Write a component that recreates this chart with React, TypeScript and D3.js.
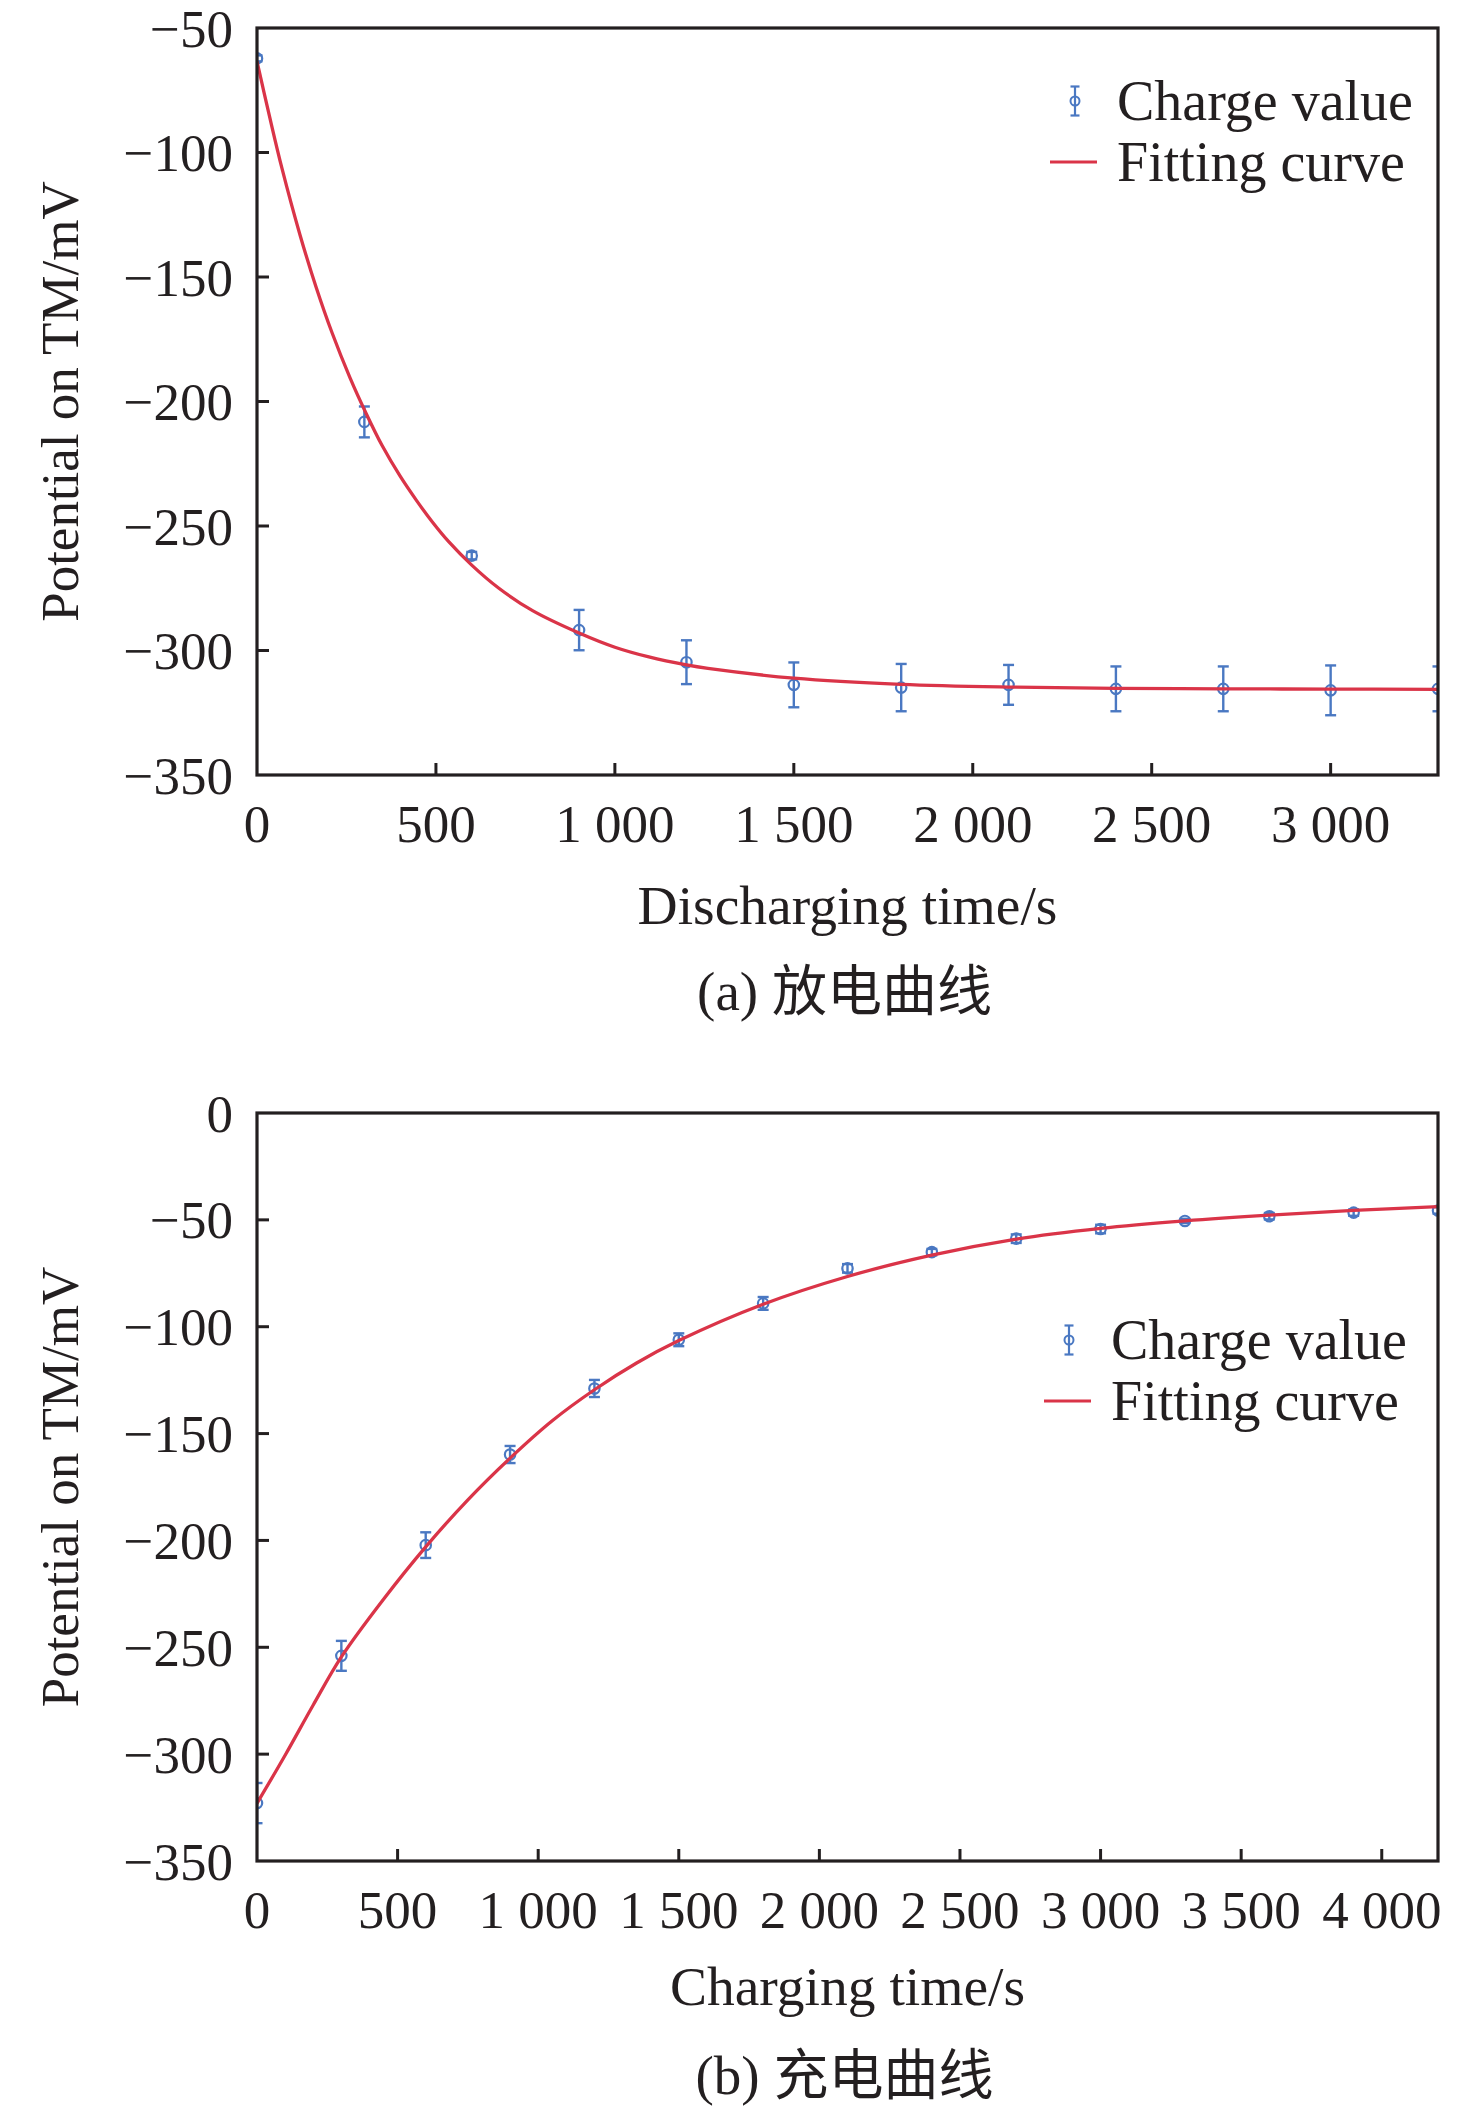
import React from 'react';
import * as d3 from 'd3';

// ---- data: (a) discharging ----
const dischargeTime = [0, 300, 600, 900, 1200, 1500, 1800, 2100, 2400, 2700, 3000, 3300];
const dischargeValue = [-62.2, -208.2, -261.9, -291.8, -304.7, -313.8, -314.9, -313.8, -315.4, -315.4, -316.0, -315.4];
const dischargeErr = [1.2, 6.2, 1.5, 8.1, 8.8, 9.0, 9.5, 8.0, 9.0, 9.0, 10.0, 9.0];
const dischargeFitTime = [0, 35, 70, 120, 165, 210, 260, 305, 350, 400, 445, 490, 535, 600, 675, 770, 900, 1000, 1095, 1200, 1260, 1500, 1800, 2100, 2400, 2700, 3000, 3300];
const dischargeFitValue = [-63.4, -85.5, -106.5, -133, -154, -172.5, -190.5, -204.8, -217.8, -230, -239.6, -248.4, -256.2, -265.7, -274.9, -284, -293, -298.7, -302.6, -305.8, -307.2, -311.1, -313.6, -314.7, -315.2, -315.4, -315.5, -315.6];
const dischargeXTicks = [500, 1000, 1500, 2000, 2500, 3000];
const dischargeXLabels = ['0', '500', '1 000', '1 500', '2 000', '2 500', '3 000'];
const dischargeYTicks = [-50, -100, -150, -200, -250, -300, -350];
const dischargeYLabels = ['−50', '−100', '−150', '−200', '−250', '−300', '−350'];

// ---- data: (b) charging ----
const chargeTime = [0, 300, 600, 900, 1200, 1500, 1800, 2100, 2400, 2700, 3000, 3300, 3600, 3900, 4200];
const chargeValue = [-322.9, -254, -202.2, -159.8, -128.9, -106.1, -89.1, -72.7, -65.1, -58.8, -54.3, -50.5, -48.3, -46.6, -45.6];
const chargeErr = [9.4, 7, 6, 4, 4, 3, 3, 2, 1.5, 2, 2, 1, 1.5, 1.5, 1.5];
const chargeFitTime = [0, 100, 200, 300, 450, 600, 750, 900, 1050, 1200, 1350, 1500, 1800, 2100, 2400, 2700, 3000, 3300, 3600, 3900, 4200];
const chargeFitValue = [-323, -300.5, -277, -254.5, -227.5, -203, -181, -161.5, -144, -129.5, -117, -106.5, -89.5, -76.5, -66.5, -59, -54, -50.5, -47.8, -45.6, -43.8];
const chargeXTicks = [500, 1000, 1500, 2000, 2500, 3000, 3500, 4000];
const chargeXLabels = ['0', '500', '1 000', '1 500', '2 000', '2 500', '3 000', '3 500', '4 000'];
const chargeYTicks = [0, -50, -100, -150, -200, -250, -300, -350];
const chargeYLabels = ['0', '−50', '−100', '−150', '−200', '−250', '−300', '−350'];

const legendLabels = ['Charge value', 'Fitting curve'];

const SERIF = "'Liberation Serif', 'Times New Roman', serif";
const CJK = "'Noto Sans CJK SC', sans-serif";
const INK = '#231f20';
const BLUE = '#4a78c2';
const RED = '#da3448';

interface PanelProps {
  id: string;
  box: { left: number; right: number; top: number; bottom: number };
  xMax: number;
  yDomain: [number, number];
  time: number[];
  value: number[];
  err: number[];
  fitTime: number[];
  fitValue: number[];
  xTicks: number[];
  xLabels: string[];
  yTicks: number[];
  yLabels: string[];
  xTitle: string;
  caption: [string, string];
  titleY: number;
  captionY: number;
  legend: { x: number; y: number };
}

function Panel(p: PanelProps) {
  const { box } = p;
  const x = d3.scaleLinear().domain([0, p.xMax]).range([box.left, box.right]);
  const y = d3.scaleLinear().domain(p.yDomain).range([box.bottom, box.top]);
  const line = d3.line<number>()
    .x((_, i) => x(p.fitTime[i]))
    .y(d => y(d))
    .curve(d3.curveCatmullRom.alpha(0.5));
  const tickLen = 12;
  const fs = 53;
  const cx = (box.left + box.right) / 2;
  const cy = (box.top + box.bottom) / 2;
  const xLabelTicks = [0, ...p.xTicks];

  return (
    <g>
      <defs>
        <clipPath id={`clip-${p.id}`}>
          <rect x={box.left} y={box.top} width={box.right - box.left} height={box.bottom - box.top} />
        </clipPath>
      </defs>

      <g clipPath={`url(#clip-${p.id})`}>
        {p.time.map((t, i) => {
          const px = x(t);
          const y0 = y(p.value[i] + p.err[i]);
          const y1 = y(p.value[i] - p.err[i]);
          return (
            <g key={t} stroke={BLUE} strokeWidth={2.4} fill="none">
              <line x1={px} x2={px} y1={y0} y2={y1} />
              <line x1={px - 5.5} x2={px + 5.5} y1={y0} y2={y0} />
              <line x1={px - 5.5} x2={px + 5.5} y1={y1} y2={y1} />
              <circle cx={px} cy={y(p.value[i])} r={5.2} strokeWidth={2.2} />
            </g>
          );
        })}
        <path d={line(p.fitValue) || ''} fill="none" stroke={RED} strokeWidth={3.3} />
      </g>

      {/* frame */}
      <rect x={box.left} y={box.top} width={box.right - box.left} height={box.bottom - box.top}
        fill="none" stroke={INK} strokeWidth={3.2} />
      {p.xTicks.map(t => (
        <line key={t} x1={x(t)} x2={x(t)} y1={box.bottom} y2={box.bottom - tickLen} stroke={INK} strokeWidth={3} />
      ))}
      {p.yTicks.slice(1, -1).map(t => (
        <line key={t} x1={box.left} x2={box.left + tickLen} y1={y(t)} y2={y(t)} stroke={INK} strokeWidth={3} />
      ))}

      {/* tick labels and titles */}
      <g fontFamily={SERIF} fontSize={fs} fill={INK}>
        {xLabelTicks.map((t, i) => (
          <text key={t} x={x(t)} y={box.bottom + 67} textAnchor="middle">{p.xLabels[i]}</text>
        ))}
        {p.yTicks.map((t, i) => (
          <text key={t} x={box.left - 24} y={y(t)} dy="0.35em" textAnchor="end">{p.yLabels[i]}</text>
        ))}
        <text x={cx} y={p.titleY} textAnchor="middle" fontSize={55.5}>{p.xTitle}</text>
        <text transform={`translate(78,${cy}) rotate(-90)`} textAnchor="middle">Potential on TM/mV</text>
        <text x={cx - 3} y={p.captionY} textAnchor="middle" fontSize={55}>
          <tspan>{p.caption[0]} </tspan>
          <tspan fontFamily={CJK}>{p.caption[1]}</tspan>
        </text>
      </g>

      {/* legend */}
      <g transform={`translate(${p.legend.x},${p.legend.y})`}>
        <g stroke={BLUE} strokeWidth={2.2} fill="none">
          <line x1={0} x2={0} y1={-14.5} y2={14.5} />
          <line x1={-4.5} x2={4.5} y1={-14.5} y2={-14.5} />
          <line x1={-4.5} x2={4.5} y1={14.5} y2={14.5} />
          <circle cx={0} cy={0} r={4.5} strokeWidth={2} />
        </g>
        <line x1={-25} x2={22} y1={61} y2={61} stroke={RED} strokeWidth={3.2} />
        <g fontFamily={SERIF} fontSize={56} fill={INK}>
          <text x={42} y={19}>{legendLabels[0]}</text>
          <text x={42} y={80}>{legendLabels[1]}</text>
        </g>
      </g>
    </g>
  );
}

export default function App() {
  return (
    <svg width={1476} height={2114} style={{ position: 'absolute', left: 0, top: 0, background: '#fff' }}>
      <rect width={1476} height={2114} fill="#fff" />
      <Panel
        id="a"
        box={{ left: 257, right: 1438, top: 28, bottom: 775 }}
        xMax={3300}
        yDomain={[-350, -50]}
        time={dischargeTime}
        value={dischargeValue}
        err={dischargeErr}
        fitTime={dischargeFitTime}
        fitValue={dischargeFitValue}
        xTicks={dischargeXTicks}
        xLabels={dischargeXLabels}
        yTicks={dischargeYTicks}
        yLabels={dischargeYLabels}
        xTitle="Discharging time/s"
        caption={['(a)', '放电曲线']}
        titleY={924}
        captionY={1010}
        legend={{ x: 1075, y: 101 }}
      />
      <Panel
        id="b"
        box={{ left: 257, right: 1438, top: 1113, bottom: 1861 }}
        xMax={4200}
        yDomain={[-350, 0]}
        time={chargeTime}
        value={chargeValue}
        err={chargeErr}
        fitTime={chargeFitTime}
        fitValue={chargeFitValue}
        xTicks={chargeXTicks}
        xLabels={chargeXLabels}
        yTicks={chargeYTicks}
        yLabels={chargeYLabels}
        xTitle="Charging time/s"
        caption={['(b)', '充电曲线']}
        titleY={2005}
        captionY={2094}
        legend={{ x: 1069, y: 1340 }}
      />
    </svg>
  );
}
